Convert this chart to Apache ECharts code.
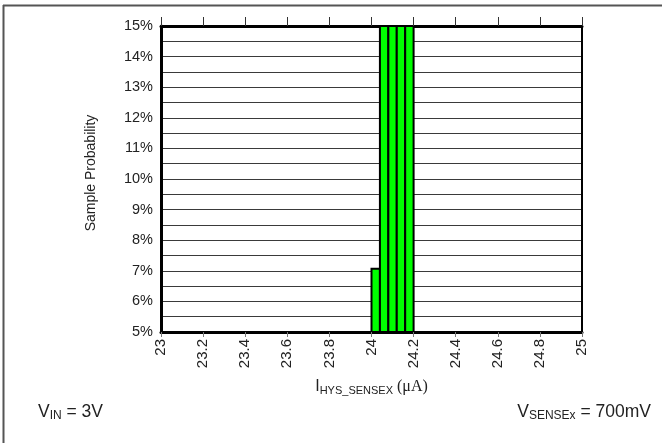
<!DOCTYPE html>
<html>
<head>
<meta charset="utf-8">
<script src="https://cdn.jsdelivr.net/npm/echarts@6/dist/echarts.min.js"></script>
<style>
  html, body { margin: 0; padding: 0; background: #fff; }
  #chart { width: 662px; height: 443px; }
</style>
</head>
<body>
<div id="chart"></div>
<script>
// Histogram bins: left edge, right edge (µA) and sample probability (%)
const binStart = [24.00, 24.04, 24.08, 24.12, 24.16];
const binEnd   = [24.04, 24.08, 24.12, 24.16, 24.20];
const binProb  = [7.07, 18.5, 30.2, 27.6, 16.7];

// Axis settings
const xTicks = ['23', '23.2', '23.4', '23.6', '23.8', '24', '24.2', '24.4', '24.6', '24.8', '25'];
const yTicks = ['5%', '6%', '7%', '8%', '9%', '10%', '11%', '12%', '13%', '14%', '15%'];

const FONT = '"Liberation Sans", Arial, sans-serif';
const chart = echarts.init(document.getElementById('chart'), null, { renderer: 'canvas' });

const bins = binStart.map((s, i) => [s, binEnd[i], binProb[i]]);

chart.setOption({
  animation: false,
  backgroundColor: '#fff',
  grid: { left: 161, right: 80, top: 26, bottom: 111, containLabel: false },
  xAxis: [
    {
      type: 'value', position: 'bottom', min: 23, max: 25, interval: 0.2,
      axisLine: { show: true, onZero: false, lineStyle: { color: '#000', width: 3 } },
      axisTick: { show: true, length: 5, lineStyle: { color: '#777', width: 1 } },
      splitLine: { show: false },
      axisLabel: {
        rotate: 90, margin: 7, color: '#222', fontFamily: FONT, fontSize: 15,
        formatter: v => xTicks.find(t => Math.abs(parseFloat(t) - v) < 1e-6) || ''
      },
      name: '{i|I}{s|HYS_SENSEX}{u| (μA)}',
      nameLocation: 'middle', nameGap: 46,
      nameTextStyle: {
        rich: {
          i: { fontFamily: FONT, fontSize: 16, color: '#222' },
          s: { fontFamily: FONT, fontSize: 11, color: '#222', verticalAlign: 'bottom', padding: [7, 0, 0, 0] },
          u: { fontFamily: '"Liberation Serif", "DejaVu Serif", serif', fontSize: 16, color: '#222' }
        }
      }
    },
    {
      type: 'value', position: 'top', min: 23, max: 25, interval: 0.2,
      axisLine: { show: true, onZero: false, lineStyle: { color: '#000', width: 3 } },
      axisTick: { show: true, length: 9, lineStyle: { color: '#333', width: 1 } },
      axisLabel: { show: false },
      splitLine: { show: false }
    }
  ],
  yAxis: [
    {
      type: 'value', position: 'left', min: 5, max: 15, interval: 0.5,
      axisLine: { show: true, onZero: false, lineStyle: { color: '#000', width: 3 } },
      axisTick: { show: false },
      splitLine: { show: true, lineStyle: { color: '#3a3a3a', width: 1 } },
      axisLabel: {
        margin: 8, color: '#222', fontFamily: FONT, fontSize: 14.5,
        formatter: v => yTicks.find(t => Math.abs(parseFloat(t) - v) < 1e-6) || ''
      }
    },
    {
      type: 'value', position: 'right', min: 5, max: 15, interval: 0.5,
      axisLine: { show: true, onZero: false, lineStyle: { color: '#000', width: 2 } },
      axisTick: { show: false }, axisLabel: { show: false }, splitLine: { show: false }
    }
  ],
  series: [{
    type: 'custom',
    xAxisIndex: 0, yAxisIndex: 0,
    data: bins,
    clip: true,
    renderItem: function (params, api) {
      const p0 = api.coord([api.value(0), 5]);
      const p1 = api.coord([api.value(1), api.value(2)]);
      const rect = echarts.graphic.clipRectByRect(
        { x: p0[0], y: p1[1], width: p1[0] - p0[0], height: p0[1] - p1[1] },
        { x: params.coordSys.x, y: params.coordSys.y, width: params.coordSys.width, height: params.coordSys.height }
      );
      if (!rect) return;
      return {
        type: 'rect',
        shape: rect,
        style: { fill: '#00ff00', stroke: '#000', lineWidth: 2 }
      };
    }
  }],
  graphic: [
    { type: 'line', shape: { x1: 3.5, y1: 5, x2: 3.5, y2: 443 }, style: { stroke: '#555', lineWidth: 2 } },
    { type: 'line', shape: { x1: 3, y1: 5.5, x2: 662, y2: 5.5 }, style: { stroke: '#555', lineWidth: 2 } },
    {
      type: 'text', x: 91, y: 173, rotation: Math.PI / 2,
      style: {
        text: 'Sample Probability', fontFamily: FONT, fontSize: 14, fill: '#222',
        align: 'center', verticalAlign: 'middle'
      }
    },
    {
      type: 'text', left: 38, top: 403,
      style: {
        text: '{m|V}{s|IN}{m| = 3V}',
        rich: {
          m: { fontFamily: FONT, fontSize: 17.5, fill: '#222' },
          s: { fontFamily: FONT, fontSize: 12, fill: '#222', padding: [7, 0, 0, 0] }
        }
      }
    },
    {
      type: 'text', right: 11, top: 403,
      style: {
        text: '{m|V}{s|SENSEx}{m| = 700mV}',
        rich: {
          m: { fontFamily: FONT, fontSize: 17.5, fill: '#222' },
          s: { fontFamily: FONT, fontSize: 12, fill: '#222', padding: [7, 0, 0, 0] }
        }
      }
    }
  ]
});
</script>
</body>
</html>
